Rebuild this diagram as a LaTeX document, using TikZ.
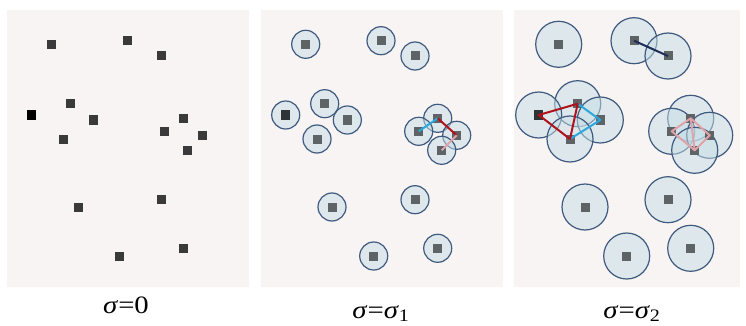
\documentclass[tikz,border=0pt]{standalone}
\usepackage{fontspec}
\setmainfont{Liberation Serif}
\definecolor{bgc}{HTML}{F8F4F4}
\definecolor{sqa}{HTML}{3A3A3A}
\definecolor{sqb}{HTML}{5E6465}
\definecolor{sqdark}{HTML}{2E3436}
\definecolor{circc}{HTML}{3E5A7E}
\definecolor{circf}{HTML}{C6DEE6}
\definecolor{lcyan}{HTML}{2AA8DE}
\definecolor{lred}{HTML}{B0121C}
\definecolor{lpink}{HTML}{E0A2AA}
\definecolor{lnavy}{HTML}{1E2C58}
\tikzset{
  panel/.style={fill=bgc, draw=none},
  sq/.style={rectangle, fill=#1, minimum size=9pt, inner sep=0pt, draw=none},
  sq/.default=sqb,
  ballA/.style={circle, draw=circc, line width=1.2pt, fill=circf, fill opacity=0.5, minimum size=28pt, inner sep=0pt},
  ballB/.style={circle, draw=circc, line width=1.2pt, fill=circf, fill opacity=0.5, minimum size=46pt, inner sep=0pt},
  edge/.style={line width=2pt, #1},
  lab/.style={font=\fontsize{25}{25}\selectfont, inner sep=0pt, anchor=base, xscale=1.15},
}
\begin{document}
\begin{tikzpicture}[x=1pt,y=-1pt]
\useasboundingbox (0,0) rectangle (746,326);
\fill[white] (0,0) rectangle (746,326);
\path[panel] (7,10) rectangle (249,287);
\path[panel] (261,10) rectangle (503,287);
\path[panel] (514,10) rectangle (740,287);
\def\pts{1/51.7/44.3, 2/127/40.7, 3/161/56, 4/70.7/103.7, 5/31.7/115, 6/93.3/120, 7/63/139, 8/183.7/118.3, 9/164.7/131.3, 10/202.7/135.3, 11/187.7/150.3, 12/161/199.7, 13/78/207, 14/183.7/248.3, 15/119.7/256}
% panel 1
\foreach \i/\x/\y in \pts {\node[sq=sqa] (a\i) at (\x,\y) {};}
\node[sq=black] (a5b) at (a5) {};
% panel 2
\foreach \i/\x/\y in \pts {\node[ballA] (c\i) at (\x+254,\y) {};}
\foreach \i/\x/\y in \pts {\node[sq] (b\i) at (\x+254,\y) {};}
\node[sq=sqdark] (b5b) at (b5) {};
\draw[edge=lcyan] (b9.center) -- (b8.center);
\draw[edge=lred] (b8.center) -- (b10.center);
\draw[edge=lpink] (b10.center) -- (b11.center);
% panel 3
\foreach \i/\x/\y in \pts {\node[ballB] (d\i) at (\x+507,\y) {};}
\foreach \i/\x/\y in \pts {\node[sq] (e\i) at (\x+507,\y) {};}
\node[sq=sqdark] (e5b) at (e5) {};
\draw[edge=lnavy] (e2.center) -- (e3.center);
\draw[edge=lcyan, line join=round] (e4.center) -- (e6.center) -- (e7.center);
\draw[edge=lred, line join=round] (e5.center) -- (e4.center) -- (e7.center) -- cycle;
\draw[edge=lpink, line join=round] (e9.center) -- (e8.center) -- (e10.center) -- (e11.center) -- cycle;
\draw[edge=lpink] (e8.center) -- (e11.center);
% labels
\node[lab] (l1) at (126,313) {\textit{σ}=0};
\node[lab] (l2) at (381,318) {\textit{σ}=\textit{σ}\textsubscript{1}};
\node[lab] (l3) at (632,318) {\textit{σ}=\textit{σ}\textsubscript{2}};
\end{tikzpicture}
\end{document}
